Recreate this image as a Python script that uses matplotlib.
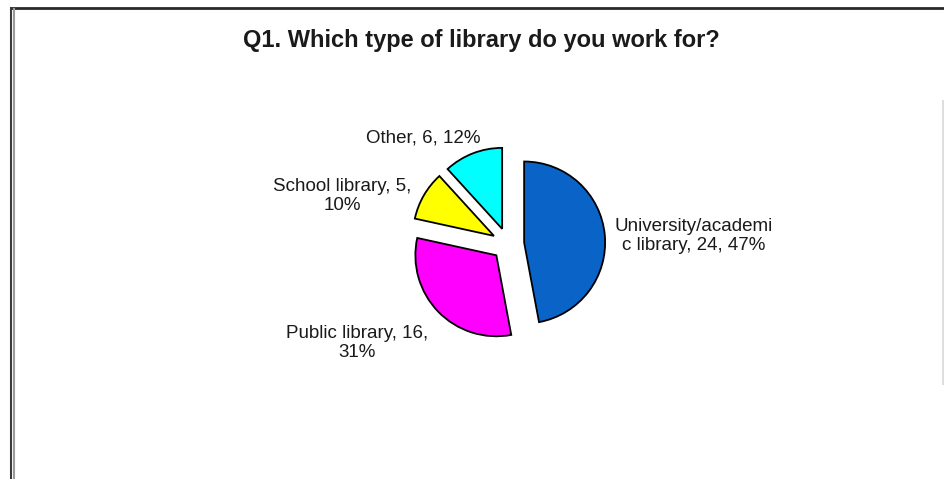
import textwrap
import matplotlib.pyplot as plt
from matplotlib.lines import Line2D

# survey answers, Q1
categories = ["University/academic library", "Public library", "School library", "Other"]
counts = [24, 16, 5, 6]
colors = ["#0A64C8", "#FF00FF", "#FFFF00", "#00FFFF"]

# line width used when wrapping each data label
wrap_widths = [18, 19, 18, 30]
# label centres, in figure pixels (origin bottom left)
label_xy = [(694, 243), (357, 136), (342, 283), (423, 341)]

W, H = 944, 479
R = 81  # pie radius in pixels
fig = plt.figure(figsize=(W / 100, H / 100), dpi=100)
fig.patch.set_facecolor("white")
ax = fig.add_axes([0, 0, 1, 1])

total = sum(counts)
labels = []
for cat, n, w in zip(categories, counts, wrap_widths):
    pct = round(100 * n / total)
    labels.append("\n".join(textwrap.wrap(f"{cat}, {n}, {pct}%", w)))

# explode is in data units here, so scale it by the radius
wedges, texts = ax.pie(
    counts, explode=[0.2 * R] * len(counts), colors=colors, labels=labels,
    startangle=90, counterclock=False, radius=R, center=(508, 235),
    wedgeprops=dict(edgecolor="black", linewidth=1.3), frame=True,
)
for t, xy in zip(texts, label_xy):
    t.set_position(xy)
    t.set_ha("center")
    t.set_va("center")
    t.set_fontsize(13.5)
    t.set_family("Liberation Sans")
    t.set_color("#1a1a1a")
    t.set_linespacing(1.2)

ax.set_xlim(0, W)
ax.set_ylim(0, H)
ax.axis("off")

ax.text(481, 432, "Q1. Which type of library do you work for?", ha="center",
        va="baseline", fontsize=17, fontweight="bold", family="Liberation Sans",
        color="#1a1a1a")

# frame edges around the chart area
edge = dict(solid_capstyle="butt")
ax.add_line(Line2D([10, W], [471.5, 471.5], color="#2a2a2a", lw=2, **edge))
ax.add_line(Line2D([10.5, 10.5], [0, 472], color="#3a3a3a", lw=1.5, **edge))
ax.add_line(Line2D([13.5, 13.5], [0, 471], color="#9a9a9a", lw=1.5, **edge))
ax.add_line(Line2D([942.5, 942.5], [94, 379], color="#d8d8d8", lw=1.2, **edge))

fig.savefig("out.png", dpi=100, facecolor="white")
